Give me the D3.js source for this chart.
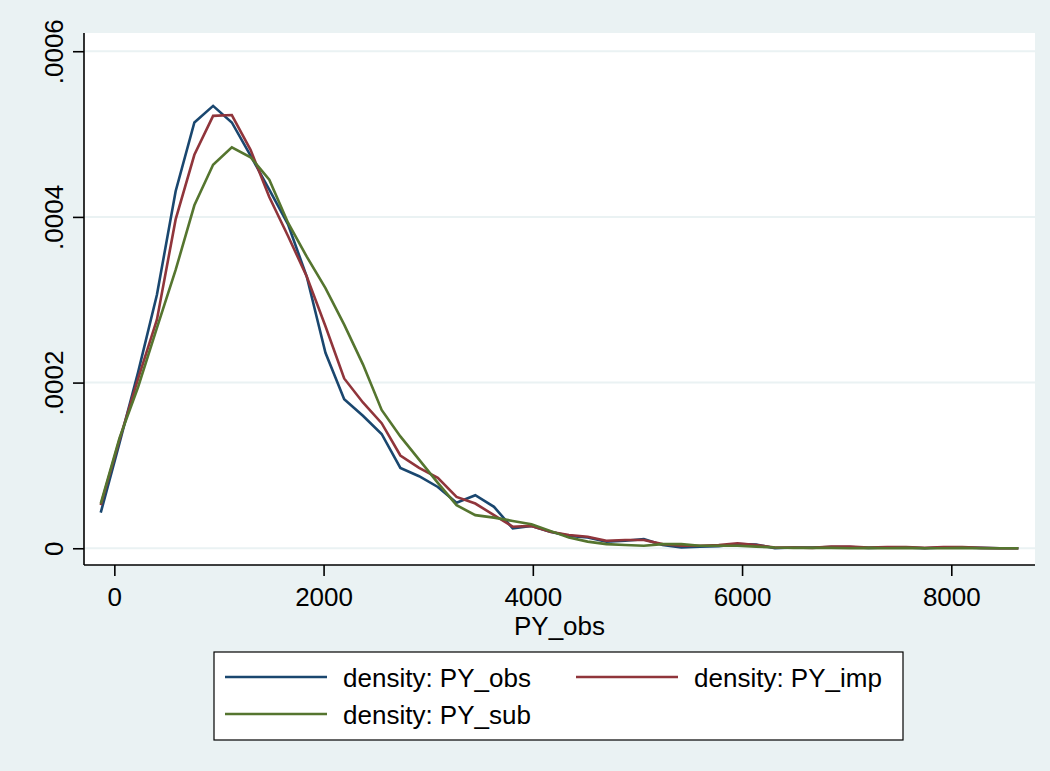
<!DOCTYPE html>
<html>
<head>
<meta charset="utf-8">
<script src="https://cdn.jsdelivr.net/npm/d3@7"></script>
<style>
    body { margin: 0; background: #eaf2f3; }
    text { font-family: "Liberation Sans", Arial, sans-serif; fill: #000; }
</style>
</head>
<body>
<div id="chart"></div>
<script>
// evaluation points of the kernel density (PY_obs)
const xPoints = [-130, 49, 228, 407, 586, 765, 944, 1123, 1302, 1481,
    1660, 1839, 2018, 2197, 2376, 2555, 2734, 2913, 3092, 3271,
    3450, 3629, 3808, 3987, 4166, 4345, 4524, 4703, 4882, 5061,
    5240, 5419, 5598, 5777, 5956, 6135, 6314, 6493, 6672, 6851,
    7030, 7209, 7388, 7567, 7746, 7925, 8104, 8283, 8462, 8641];

// densities, in units of 1e-4
const pyObs = [0.43, 1.27, 2.13, 3.06, 4.31, 5.14, 5.34, 5.14, 4.74, 4.33,
    3.91, 3.28, 2.36, 1.80, 1.60, 1.38, 0.97, 0.87, 0.74, 0.55,
    0.64, 0.50, 0.24, 0.27, 0.20, 0.15, 0.13, 0.08, 0.09, 0.11,
    0.04, 0.01, 0.02, 0.025, 0.05, 0.045, 0.0, 0.01, 0.01, 0.015,
    0.015, 0.005, 0.01, 0.01, 0.0, 0.01, 0.01, 0.005, 0.0, 0.0];

const pyImp = [0.52, 1.31, 2.05, 2.76, 3.97, 4.75, 5.22, 5.23, 4.81, 4.24,
    3.77, 3.28, 2.68, 2.05, 1.76, 1.51, 1.12, 0.97, 0.85, 0.62,
    0.54, 0.40, 0.26, 0.27, 0.20, 0.16, 0.14, 0.09, 0.10, 0.10,
    0.05, 0.03, 0.03, 0.04, 0.06, 0.04, 0.01, 0.01, 0.005, 0.02,
    0.02, 0.01, 0.015, 0.015, 0.005, 0.015, 0.015, 0.005, 0.0, 0.0];

const pySub = [0.54, 1.33, 1.95, 2.66, 3.36, 4.14, 4.63, 4.84, 4.72, 4.45,
    3.93, 3.52, 3.14, 2.70, 2.22, 1.67, 1.35, 1.07, 0.79, 0.52,
    0.40, 0.37, 0.33, 0.29, 0.21, 0.13, 0.08, 0.05, 0.04, 0.03,
    0.05, 0.05, 0.03, 0.03, 0.03, 0.02, 0.01, 0.005, 0.005, 0.005,
    0.0, 0.005, 0.0, 0.005, 0.0, 0.0, 0.005, 0.0, 0.0, 0.0];

const xTicks = [0, 2000, 4000, 6000, 8000];
const yTicks = [0, 0.0002, 0.0004, 0.0006];
const yTickLabels = ["0", ".0002", ".0004", ".0006"];

const series = [
    { name: "density: PY_obs", values: pyObs, color: "#1a476f" },
    { name: "density: PY_imp", values: pyImp, color: "#90353b" },
    { name: "density: PY_sub", values: pySub, color: "#55752f" }
];

const width = 1050;
const height = 771;
const plot = { left: 84, right: 1035, top: 33, bottom: 565 };

const svg = d3.select("#chart")
    .append("svg")
    .attr("width", width)
    .attr("height", height);

svg.append("rect")
    .attr("width", width)
    .attr("height", height)
    .attr("fill", "#eaf2f3");

const x = d3.scaleLinear()
    .domain([-290, 8800])
    .range([plot.left, plot.right]);

const y = d3.scaleLinear()
    .domain([-0.0000202, 0.000622])
    .range([plot.bottom, plot.top]);

// plot region
svg.append("rect")
    .attr("x", plot.left)
    .attr("y", plot.top)
    .attr("width", plot.right - plot.left)
    .attr("height", plot.bottom - plot.top)
    .attr("fill", "#ffffff");

// horizontal grid
svg.append("g")
    .selectAll("line")
    .data(yTicks)
    .enter()
    .append("line")
    .attr("x1", plot.left)
    .attr("x2", plot.right)
    .attr("y1", d => y(d))
    .attr("y2", d => y(d))
    .attr("stroke", "#eaf2f3")
    .attr("stroke-width", 2);

// density lines
const line = d3.line()
    .x((d, i) => x(xPoints[i]))
    .y(d => y(d * 1e-4));

svg.append("g")
    .selectAll("path")
    .data(series)
    .enter()
    .append("path")
    .attr("d", d => line(d.values))
    .attr("fill", "none")
    .attr("stroke", d => d.color)
    .attr("stroke-width", 2.6)
    .attr("stroke-linejoin", "miter");

// y axis
const yAxis = d3.axisLeft(y)
    .tickValues(yTicks)
    .tickSize(11)
    .tickFormat((d, i) => yTickLabels[i]);

const gy = svg.append("g")
    .attr("transform", `translate(${plot.left},0)`)
    .call(yAxis);

gy.select(".domain")
    .attr("d", `M0,${plot.top}V${plot.bottom}`)
    .attr("stroke", "#000")
    .attr("stroke-width", 1.6);
gy.selectAll(".tick line").attr("stroke", "#000").attr("stroke-width", 1.6);
gy.selectAll(".tick text")
    .attr("x", 0)
    .attr("y", 0)
    .attr("dy", 0)
    .attr("text-anchor", "middle")
    .attr("transform", "translate(-21.5,0) rotate(-90)")
    .style("font-size", "26px")
    .style("font-family", "'Liberation Sans', Arial, sans-serif");

// x axis
const xAxis = d3.axisBottom(x)
    .tickValues(xTicks)
    .tickSize(11)
    .tickFormat(d3.format("d"));

const gx = svg.append("g")
    .attr("transform", `translate(0,${plot.bottom})`)
    .call(xAxis);

gx.select(".domain")
    .attr("d", `M${plot.left},0H${plot.right}`)
    .attr("stroke", "#000")
    .attr("stroke-width", 1.6);
gx.selectAll(".tick line").attr("stroke", "#000").attr("stroke-width", 1.6);
gx.selectAll(".tick text")
    .attr("y", 41)
    .attr("dy", 0)
    .style("font-size", "26px")
    .style("font-family", "'Liberation Sans', Arial, sans-serif");

svg.append("text")
    .attr("x", (plot.left + plot.right) / 2)
    .attr("y", 635)
    .attr("text-anchor", "middle")
    .style("font-size", "26px")
    .text("PY_obs");

// legend
const legend = svg.append("g");

legend.append("rect")
    .attr("x", 214)
    .attr("y", 652)
    .attr("width", 689)
    .attr("height", 88)
    .attr("fill", "#ffffff")
    .attr("stroke", "#000")
    .attr("stroke-width", 1.2);

const legendPos = [
    { lx: 225, ty: 677 },
    { lx: 576, ty: 677 },
    { lx: 225, ty: 714 }
];

series.forEach((s, i) => {
    const p = legendPos[i];
    legend.append("line")
        .attr("x1", p.lx)
        .attr("x2", p.lx + 102)
        .attr("y1", p.ty)
        .attr("y2", p.ty)
        .attr("stroke", s.color)
        .attr("stroke-width", 2.6);
    legend.append("text")
        .attr("x", p.lx + 118)
        .attr("y", p.ty + 10)
        .style("font-size", "26px")
        .text(s.name);
});
</script>
</body>
</html>
